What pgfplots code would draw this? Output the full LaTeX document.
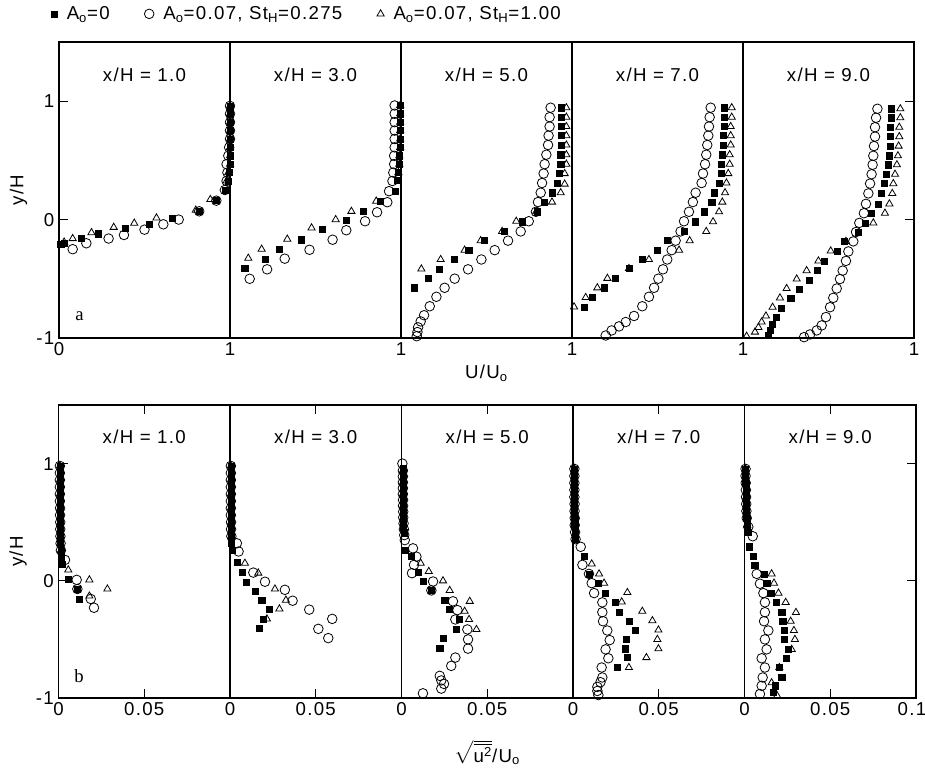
\documentclass[border=0pt]{standalone}
\usepackage{pgfplots}
\pgfplotsset{compat=1.18}
\usepackage{amsmath}
\usepackage{fontspec}
\setmainfont{Liberation Sans}[LetterSpace=7]
\newfontfamily\serif{Liberation Serif}
\pgfplotsset{
  base/.style={scale only axis, ymin=-1, ymax=1.5, clip=false,
    axis line style={line width=0.9pt}, tick style={line width=0.8pt, black},
    tick align=inside, major tick length=7pt, ytick=\empty,
    tick label style={font=\fontsize{14}{16}\selectfont},
    label style={font=\fontsize{14}{16}\selectfont}},
  pa/.style={base, width=128.25pt, height=222pt, xmin=0, xmax=1, xtick={1}, xticklabels={1}, xtick pos=lower},
  pb/.style={base, width=128.625pt, height=219.75pt, xmin=0, xmax=0.1, xtick={0,0.05}, xticklabels={0,0.05}, xtick pos=both, xticklabel pos=lower},
  sq/.style={only marks, mark=square*, mark size=2.3pt, black},
  ci/.style={only marks, mark=o, mark size=3.6pt, black, mark options={line width=0.6pt}},
  tr/.style={only marks, mark=triangle, mark size=3.1pt, black, mark options={line width=0.6pt}},
}
\newcommand{\ttl}[1]{\node[font=\fontsize{14}{16}\selectfont] at (rel axis cs:0.5,0.89) {x/H = #1};}
\begin{document}
\begin{tikzpicture}
% ---------------- panel a ----------------
\begin{axis}[pa, at={(44.25pt,327pt)}, anchor=south west, xtick={0,1}, xticklabels={0,1},
  ytick={-1,0,1}, yticklabels={-1,0,1}, ytick pos=left, ylabel={y/H},
  legend style={at={(-0.07,1.095)}, anchor=west, draw=none, fill=none, font=\fontsize{14}{16}\selectfont,
    /tikz/every odd column/.append style={column sep=5pt},
    /tikz/every even column/.append style={column sep=24pt}}, legend columns=3]
\addplot[sq] coordinates {(1.0,0.96) (1.0,0.894) (1.0,0.823) (1.0,0.752) (1.0,0.681) (1.0,0.61) (1.0,0.539) (1.0,0.468) (0.995,0.397) (0.99,0.326) (0.97,0.25) (0.92,0.16) (0.82,0.07) (0.66,0.01) (0.53,-0.04) (0.39,-0.07) (0.23,-0.12) (0.13,-0.16) (0.03,-0.20) (0.01,-0.21)};
\addlegendentry{A\textsubscript{o}=0}
\addplot[ci] coordinates {(1.0,0.96) (1.0,0.894) (1.0,0.823) (1.0,0.752) (1.0,0.681) (0.995,0.61) (0.99,0.539) (0.98,0.468) (0.985,0.397) (0.98,0.326) (0.97,0.25) (0.92,0.16) (0.82,0.07) (0.70,0.0) (0.61,-0.04) (0.50,-0.085) (0.38,-0.13) (0.29,-0.16) (0.16,-0.20) (0.08,-0.25)};
\addlegendentry{A\textsubscript{o}=0.07, St\textsubscript{H}=0.275}
\addplot[tr] coordinates {(1.0,0.96) (1.0,0.894) (1.0,0.823) (1.0,0.752) (1.0,0.681) (1.0,0.61) (1.0,0.539) (1.0,0.468) (0.99,0.397) (0.98,0.326) (0.885,0.17) (0.80,0.08) (0.57,0.014) (0.44,-0.03) (0.32,-0.065) (0.19,-0.11) (0.08,-0.16) (0.03,-0.19)};
\addlegendentry{A\textsubscript{o}=0.07, St\textsubscript{H}=1.00}
\ttl{1.0}
\node[font=\fontsize{14}{16}\selectfont\serif] at (rel axis cs:0.12,0.075) {a};
\end{axis}
\begin{axis}[pa, at={(172.5pt,327pt)}, anchor=south west]
\addplot[sq] coordinates {(0.995,0.964) (0.995,0.894) (0.995,0.823) (0.995,0.752) (0.995,0.681) (0.995,0.61) (0.99,0.539) (0.99,0.468) (0.985,0.397) (0.98,0.33) (0.965,0.24) (0.88,0.156) (0.78,0.07) (0.68,-0.006) (0.54,-0.085) (0.415,-0.17) (0.288,-0.25) (0.207,-0.335) (0.086,-0.41)};
\addplot[ci] coordinates {(0.963,0.964) (0.963,0.894) (0.963,0.823) (0.963,0.752) (0.963,0.681) (0.963,0.61) (0.96,0.539) (0.96,0.468) (0.955,0.397) (0.95,0.326) (0.93,0.24) (0.92,0.147) (0.86,0.062) (0.79,-0.014) (0.68,-0.09) (0.60,-0.17) (0.465,-0.255) (0.32,-0.33) (0.217,-0.42) (0.115,-0.50)};
\addplot[tr] coordinates {(0.995,0.964) (0.995,0.894) (0.995,0.823) (0.995,0.752) (0.995,0.681) (0.995,0.61) (0.99,0.539) (0.99,0.468) (0.985,0.397) (0.855,0.156) (0.71,0.07) (0.618,0.0) (0.477,-0.07) (0.335,-0.165) (0.185,-0.25) (0.107,-0.326)};
\ttl{3.0}
\end{axis}
\begin{axis}[pa, at={(300.75pt,327pt)}, anchor=south west, xlabel={U/U\textsubscript{o}}]
\addplot[sq] coordinates {(0.937,0.945) (0.937,0.865) (0.937,0.786) (0.937,0.709) (0.937,0.630) (0.934,0.548) (0.934,0.468) (0.928,0.389) (0.914,0.309) (0.887,0.227) (0.836,0.148) (0.797,0.066) (0.708,-0.018) (0.606,-0.10) (0.489,-0.178) (0.396,-0.258) (0.310,-0.337) (0.226,-0.417) (0.158,-0.497) (0.076,-0.576)};
\addplot[ci] coordinates {(0.875,0.945) (0.869,0.865) (0.869,0.786) (0.863,0.709) (0.860,0.630) (0.850,0.548) (0.840,0.468) (0.834,0.389) (0.825,0.309) (0.817,0.227) (0.801,0.148) (0.789,0.066) (0.747,-0.014) (0.70,-0.10) (0.626,-0.178) (0.548,-0.258) (0.470,-0.337) (0.392,-0.420) (0.314,-0.499) (0.255,-0.576) (0.207,-0.652) (0.168,-0.732) (0.135,-0.808) (0.115,-0.86) (0.10,-0.91) (0.096,-0.95) (0.092,-0.985)};
\addplot[tr] coordinates {(0.967,0.945) (0.967,0.865) (0.967,0.786) (0.967,0.709) (0.967,0.630) (0.967,0.548) (0.967,0.468) (0.957,0.389) (0.957,0.30) (0.934,0.227) (0.883,0.148) (0.79,0.066) (0.674,-0.014) (0.591,-0.10) (0.466,-0.178) (0.372,-0.258) (0.232,-0.337) (0.119,-0.417)};
\ttl{5.0}
\end{axis}
\begin{axis}[pa, at={(429pt,327pt)}, anchor=south west]
\addplot[sq] coordinates {(0.889,0.945) (0.889,0.865) (0.889,0.786) (0.883,0.709) (0.883,0.630) (0.879,0.548) (0.875,0.468) (0.875,0.389) (0.860,0.309) (0.830,0.227) (0.817,0.148) (0.772,0.066) (0.719,-0.018) (0.655,-0.10) (0.557,-0.178) (0.499,-0.258) (0.411,-0.337) (0.333,-0.413) (0.255,-0.496) (0.187,-0.576) (0.119,-0.658) (0.070,-0.743)};
\addplot[ci] coordinates {(0.811,0.945) (0.805,0.865) (0.801,0.786) (0.797,0.709) (0.791,0.630) (0.785,0.548) (0.778,0.468) (0.766,0.389) (0.758,0.309) (0.723,0.227) (0.707,0.148) (0.684,0.066) (0.655,-0.014) (0.635,-0.10) (0.606,-0.178) (0.583,-0.258) (0.557,-0.337) (0.532,-0.420) (0.505,-0.499) (0.480,-0.576) (0.450,-0.652) (0.411,-0.732) (0.363,-0.814) (0.314,-0.865) (0.275,-0.902) (0.232,-0.936) (0.197,-0.979)};
\addplot[tr] coordinates {(0.934,0.945) (0.934,0.865) (0.928,0.786) (0.928,0.709) (0.928,0.630) (0.922,0.548) (0.922,0.468) (0.914,0.389) (0.903,0.309) (0.895,0.227) (0.879,0.148) (0.860,0.066) (0.825,-0.018) (0.785,-0.10) (0.688,-0.178) (0.626,-0.258) (0.450,-0.337) (0.333,-0.413) (0.207,-0.496) (0.148,-0.576) (0.080,-0.658) (0.012,-0.737)};
\ttl{7.0}
\end{axis}
\begin{axis}[pa, at={(557.25pt,327pt)}, anchor=south west, ytick={0,1}, yticklabels={}, ytick pos=right]
\addplot[sq] coordinates {(0.869,0.936) (0.869,0.860) (0.863,0.780) (0.863,0.701) (0.860,0.621) (0.856,0.539) (0.850,0.463) (0.836,0.383) (0.825,0.304) (0.811,0.221) (0.791,0.133) (0.752,0.054) (0.713,-0.028) (0.674,-0.105) (0.590,-0.184) (0.551,-0.269) (0.474,-0.349) (0.435,-0.431) (0.388,-0.511) (0.329,-0.588) (0.279,-0.667) (0.226,-0.752) (0.197,-0.823) (0.173,-0.882) (0.158,-0.936) (0.148,-0.979)};
\addplot[ci] coordinates {(0.786,0.936) (0.778,0.860) (0.772,0.780) (0.772,0.701) (0.766,0.621) (0.762,0.539) (0.758,0.463) (0.752,0.383) (0.743,0.304) (0.733,0.221) (0.719,0.133) (0.707,0.054) (0.680,-0.028) (0.661,-0.105) (0.645,-0.184) (0.616,-0.269) (0.602,-0.349) (0.583,-0.431) (0.567,-0.502) (0.548,-0.582) (0.528,-0.661) (0.509,-0.740) (0.485,-0.823) (0.460,-0.894) (0.431,-0.936) (0.392,-0.970) (0.357,-0.993)};
\addplot[tr] coordinates {(0.92,0.936) (0.92,0.860) (0.914,0.780) (0.914,0.701) (0.910,0.621) (0.906,0.539) (0.900,0.463) (0.889,0.383) (0.879,0.304) (0.873,0.221) (0.856,0.133) (0.830,0.054) (0.762,-0.028) (0.602,-0.184) (0.513,-0.265) (0.441,-0.349) (0.372,-0.431) (0.314,-0.502) (0.255,-0.582) (0.216,-0.661) (0.173,-0.740) (0.134,-0.814) (0.109,-0.865) (0.090,-0.91) (0.070,-0.95) (0.021,-0.985)};
\ttl{9.0}
\end{axis}
% ---------------- panel b ----------------
\begin{axis}[pb, at={(43.875pt,57pt)}, anchor=south west,
  ytick={-1,0,1}, yticklabels={-1,0,1}, ytick pos=left, ylabel={y/H}]
\addplot[sq] coordinates {(0.0008,0.98) (0.0008,0.92) (0.0008,0.86) (0.0008,0.80) (0.0008,0.74) (0.0008,0.68) (0.0009,0.62) (0.0009,0.56) (0.001,0.50) (0.001,0.44) (0.0011,0.38) (0.0012,0.32) (0.0014,0.26) (0.0017,0.20) (0.0022,0.14) (0.0057,0.01) (0.011,-0.07) (0.012,-0.155)};
\addplot[ci] coordinates {(0.0008,0.98) (0.0008,0.92) (0.0008,0.86) (0.0008,0.80) (0.0008,0.74) (0.0008,0.68) (0.0009,0.62) (0.0009,0.56) (0.001,0.50) (0.001,0.44) (0.0011,0.38) (0.0012,0.32) (0.0014,0.26) (0.0038,0.178) (0.0106,0.008) (0.011,-0.07) (0.0188,-0.155) (0.0207,-0.23)};
\addplot[tr] coordinates {(0.0008,0.98) (0.0008,0.86) (0.0008,0.74) (0.0009,0.62) (0.001,0.50) (0.0011,0.38) (0.0014,0.26) (0.0057,0.093) (0.018,0.008) (0.0285,-0.07) (0.018,-0.13)};
\ttl{1.0}
\node[font=\fontsize{14}{16}\selectfont\serif] at (rel axis cs:0.12,0.075) {b};
\end{axis}
\begin{axis}[pb, at={(172.5pt,57pt)}, anchor=south west]
\addplot[sq] coordinates {(0.0005,0.98) (0.0005,0.92) (0.0005,0.86) (0.0005,0.80) (0.0005,0.74) (0.0005,0.68) (0.0005,0.62) (0.0005,0.56) (0.0006,0.50) (0.0006,0.44) (0.0007,0.38) (0.0009,0.32) (0.0012,0.26) (0.0043,0.158) (0.0074,0.07) (0.0097,-0.011) (0.0146,-0.09) (0.0185,-0.167) (0.0229,-0.246) (0.0194,-0.33) (0.0171,-0.407)};
\addplot[ci] coordinates {(0.0005,0.98) (0.0005,0.92) (0.0005,0.86) (0.0005,0.80) (0.0005,0.74) (0.0005,0.68) (0.0005,0.62) (0.0005,0.56) (0.0006,0.50) (0.0006,0.44) (0.0008,0.38) (0.004,0.32) (0.005,0.25) (0.0136,0.07) (0.0204,-0.008) (0.032,-0.077) (0.0365,-0.17) (0.0462,-0.246) (0.0596,-0.325) (0.0515,-0.41) (0.0573,-0.489)};
\addplot[tr] coordinates {(0.0005,0.98) (0.0005,0.86) (0.0005,0.74) (0.0005,0.62) (0.0006,0.50) (0.0008,0.38) (0.0087,0.15) (0.0165,0.066) (0.0262,-0.07) (0.0326,-0.165) (0.0288,-0.24) (0.0215,-0.325)};
\ttl{3.0}
\end{axis}
\begin{axis}[pb, at={(301.125pt,57pt)}, anchor=south west, xlabel={$\sqrt{\overline{\text{u}^{\text{2}}}}$/U\textsubscript{o}}, xlabel style={yshift=-11pt}]
\addplot[sq] coordinates {(0.0008,0.96) (0.0008,0.91) (0.0008,0.86) (0.0008,0.81) (0.0008,0.76) (0.0008,0.71) (0.0009,0.66) (0.0009,0.61) (0.001,0.56) (0.001,0.51) (0.0012,0.46) (0.0014,0.41) (0.0022,0.26) (0.0057,0.206) (0.0096,0.07) (0.0125,-0.006) (0.0174,-0.082) (0.0252,-0.167) (0.0281,-0.246) (0.0339,-0.33) (0.032,-0.415) (0.0242,-0.49) (0.0223,-0.573)};
\addplot[ci] coordinates {(0.0005,1.0) (0.0008,0.94) (0.0008,0.89) (0.0008,0.84) (0.0008,0.79) (0.0008,0.74) (0.0009,0.69) (0.0009,0.64) (0.001,0.59) (0.001,0.54) (0.0012,0.49) (0.0014,0.44) (0.0016,0.39) (0.0019,0.347) (0.0067,0.277) (0.0087,0.206) (0.0073,0.136) (0.0061,0.065) (0.0184,-0.006) (0.0174,-0.082) (0.030,-0.175) (0.0326,-0.25) (0.0314,-0.33) (0.0384,-0.415) (0.0388,-0.5) (0.0388,-0.579) (0.0314,-0.655) (0.029,-0.726) (0.0223,-0.811) (0.0232,-0.85) (0.0248,-0.88) (0.0232,-0.92) (0.0125,-0.96)};
\addplot[tr] coordinates {(0.0008,0.94) (0.0008,0.84) (0.0008,0.74) (0.0009,0.64) (0.001,0.54) (0.0014,0.44) (0.0112,0.15) (0.0159,0.08) (0.0242,0.0) (0.0281,-0.082) (0.0398,-0.175) (0.0368,-0.26) (0.0394,-0.33) (0.0437,-0.415)};
\ttl{5.0}
\end{axis}
\begin{axis}[pb, at={(429.75pt,57pt)}, anchor=south west]
\addplot[sq] coordinates {(0.0008,0.955) (0.0008,0.895) (0.0008,0.835) (0.0008,0.775) (0.0008,0.715) (0.0009,0.655) (0.0009,0.595) (0.001,0.535) (0.001,0.475) (0.0012,0.415) (0.0015,0.355) (0.0064,0.21) (0.0093,0.059) (0.0148,-0.02) (0.0187,-0.105) (0.0245,-0.184) (0.0268,-0.268) (0.0327,-0.345) (0.0362,-0.424) (0.031,-0.5) (0.0307,-0.58) (0.0317,-0.655) (0.0259,-0.74)};
\addplot[ci] coordinates {(0.0008,0.955) (0.0008,0.895) (0.0008,0.835) (0.0008,0.775) (0.0008,0.715) (0.0009,0.655) (0.0009,0.595) (0.001,0.535) (0.001,0.475) (0.0012,0.415) (0.0015,0.355) (0.0045,0.29) (0.0055,0.136) (0.0093,0.059) (0.0109,-0.02) (0.0123,-0.105) (0.0171,-0.184) (0.0171,-0.268) (0.0175,-0.345) (0.020,-0.424) (0.0214,-0.506) (0.019,-0.585) (0.0206,-0.661) (0.0167,-0.74) (0.0171,-0.825) (0.016,-0.865) (0.0142,-0.905) (0.0142,-0.94) (0.0148,-0.975)};
\addplot[tr] coordinates {(0.0008,0.955) (0.0008,0.835) (0.0008,0.715) (0.0009,0.595) (0.001,0.475) (0.0015,0.355) (0.0109,0.144) (0.0152,0.059) (0.0181,-0.02) (0.0317,-0.10) (0.0284,-0.18) (0.0404,-0.26) (0.0463,-0.34) (0.0498,-0.42) (0.0492,-0.5) (0.0498,-0.58) (0.0428,-0.655) (0.0326,-0.74)};
\ttl{7.0}
\end{axis}
\begin{axis}[pb, at={(558.375pt,57pt)}, anchor=south west,
  extra x ticks={0.1}, extra x tick labels={0.1}, extra x tick style={xticklabel style={xshift=-3pt}},
  ytick={0,1}, yticklabels={}, ytick pos=right]
\addplot[sq] coordinates {(0.0006,0.955) (0.0006,0.895) (0.0007,0.835) (0.0008,0.775) (0.0009,0.715) (0.001,0.655) (0.0011,0.595) (0.0013,0.535) (0.0016,0.475) (0.002,0.415) (0.0028,0.29) (0.005,0.21) (0.006,0.134) (0.0114,0.059) (0.013,-0.02) (0.0153,-0.105) (0.0184,-0.184) (0.0217,-0.268) (0.0223,-0.345) (0.0231,-0.424) (0.0231,-0.5) (0.0256,-0.585) (0.0246,-0.664) (0.0205,-0.74) (0.0217,-0.825) (0.0178,-0.896) (0.0166,-0.95)};
\addplot[ci] coordinates {(0.0006,0.955) (0.0006,0.895) (0.0007,0.835) (0.0008,0.775) (0.0009,0.715) (0.001,0.655) (0.0011,0.595) (0.0013,0.535) (0.0022,0.46) (0.0048,0.38) (0.0071,0.059) (0.009,-0.025) (0.011,-0.105) (0.0119,-0.184) (0.0119,-0.268) (0.0114,-0.345) (0.0139,-0.424) (0.0119,-0.5) (0.0129,-0.585) (0.010,-0.661) (0.0119,-0.74) (0.0106,-0.825) (0.010,-0.896) (0.009,-0.966)};
\addplot[tr] coordinates {(0.0006,0.955) (0.0007,0.835) (0.0009,0.715) (0.0011,0.595) (0.0016,0.475) (0.0158,0.059) (0.0172,-0.02) (0.0198,-0.105) (0.024,-0.184) (0.030,-0.27) (0.0269,-0.345) (0.0288,-0.424) (0.0294,-0.5) (0.0275,-0.585) (0.0203,-0.74) (0.0158,-0.87) (0.019,-0.98)};
\ttl{9.0}
\end{axis}
\pgfresetboundingbox
\path[use as bounding box] (0,0) rectangle (693.75pt,580.5pt);
\end{tikzpicture}
\end{document}
